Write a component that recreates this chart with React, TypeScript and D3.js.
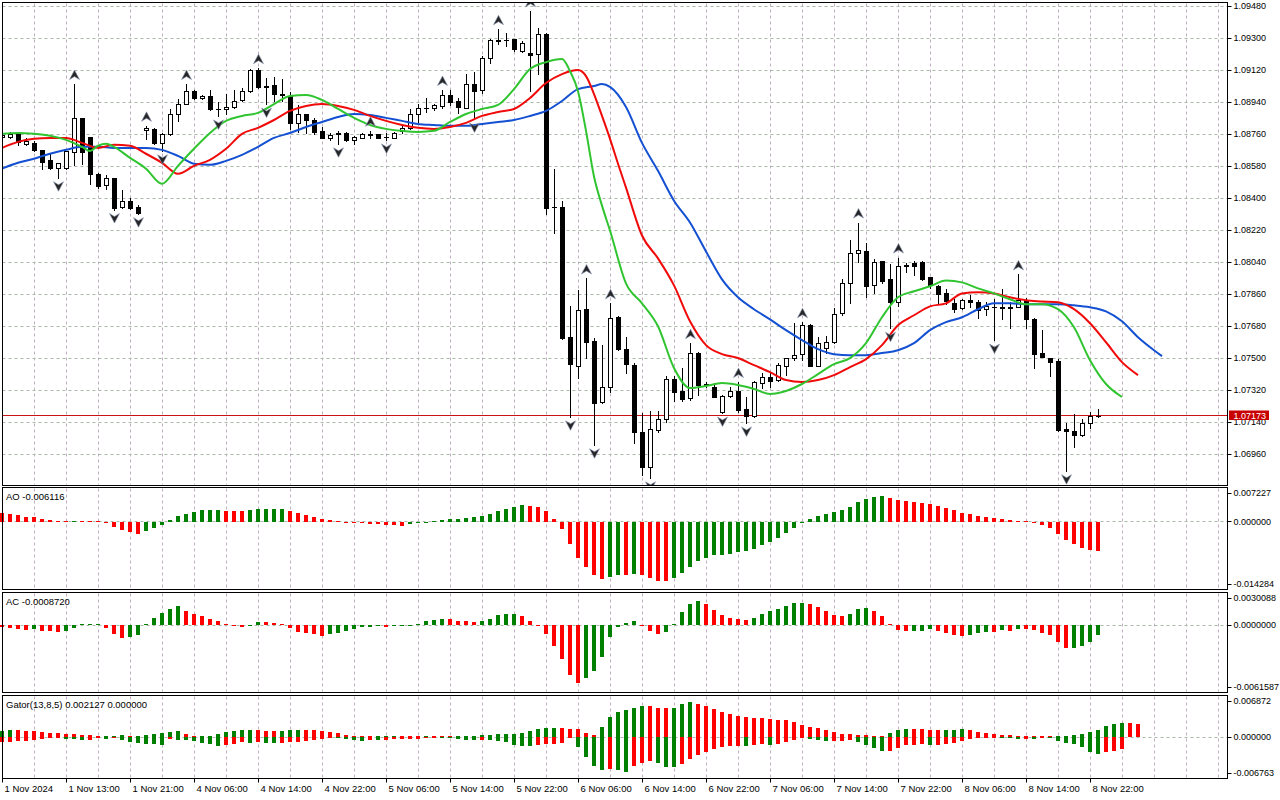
import React from "react";
import * as d3 from "d3";

// EURUSD H1 with Alligator, Fractals, AO, AC and Gator

const timeLabels = [
  "1 Nov 2024", "1 Nov 13:00", "1 Nov 21:00", "4 Nov 06:00", "4 Nov 14:00", "4 Nov 22:00",
  "5 Nov 06:00", "5 Nov 14:00", "5 Nov 22:00", "6 Nov 06:00", "6 Nov 14:00", "6 Nov 22:00",
  "7 Nov 06:00", "7 Nov 14:00", "7 Nov 22:00", "8 Nov 06:00", "8 Nov 14:00", "8 Nov 22:00",
];

const opens = [
  1.08745, 1.08745, 1.08762, 1.08706, 1.08712, 1.08672, 1.08616, 1.08571, 1.08571, 1.08661,
  1.08852, 1.08745, 1.08537, 1.08476, 1.08515, 1.08352, 1.08386, 1.08352, 1.08784, 1.08790,
  1.08712, 1.08762, 1.08874, 1.08930, 1.09003, 1.08964, 1.08975, 1.08902, 1.08902, 1.08913,
  1.08953, 1.09003, 1.09121, 1.09031, 1.09037, 1.08986, 1.08975, 1.08824, 1.08874, 1.08840,
  1.08779, 1.08740, 1.08762, 1.08768, 1.08728, 1.08740, 1.08757, 1.08762, 1.08745, 1.08740,
  1.08779, 1.08796, 1.08874, 1.08908, 1.08908, 1.08919, 1.08981, 1.08947, 1.08908, 1.09042,
  1.09009, 1.09188, 1.09289, 1.09289, 1.09295, 1.09228, 1.09216, 1.09211, 1.09323, 1.08352,
  1.08352, 1.07617, 1.07455, 1.07775, 1.07595, 1.07253, 1.07337, 1.07730, 1.07550, 1.07460,
  1.07084, 1.06888, 1.07096, 1.07157, 1.07382, 1.07315, 1.07275, 1.07528, 1.07354, 1.07337,
  1.07197, 1.07286, 1.07315, 1.07214, 1.07174, 1.07359, 1.07393, 1.07376, 1.07455, 1.07500,
  1.07522, 1.07685, 1.07455, 1.07556, 1.07589, 1.07752, 1.07920, 1.08089, 1.08100, 1.07909,
  1.08044, 1.07943, 1.07814, 1.08021, 1.08033, 1.08038, 1.07954, 1.07904, 1.07864, 1.07808,
  1.07780, 1.07825, 1.07814, 1.07775, 1.07786, 1.07786, 1.07786, 1.07786, 1.07825, 1.07718,
  1.07528, 1.07500, 1.07483, 1.07101, 1.07090, 1.07068, 1.07135, 1.07174,
];
const highs = [
  1.08762, 1.08774, 1.08768, 1.08740, 1.08723, 1.08672, 1.08655, 1.08599, 1.08667, 1.09042,
  1.08852, 1.08745, 1.08543, 1.08532, 1.08515, 1.08448, 1.08403, 1.08364, 1.08807, 1.08796,
  1.08768, 1.08902, 1.08958, 1.09042, 1.09009, 1.08981, 1.09009, 1.08941, 1.08986, 1.09009,
  1.09020, 1.09127, 1.09132, 1.09076, 1.09082, 1.09070, 1.08997, 1.08925, 1.08874, 1.08852,
  1.08801, 1.08768, 1.08779, 1.08773, 1.08751, 1.08768, 1.08779, 1.08762, 1.08768, 1.08773,
  1.08807, 1.08902, 1.08930, 1.08964, 1.08930, 1.09009, 1.09009, 1.08964, 1.09098, 1.09110,
  1.09199, 1.09295, 1.09351, 1.09328, 1.09295, 1.09284, 1.09452, 1.09357, 1.09328, 1.08565,
  1.08386, 1.07791, 1.07881, 1.07948, 1.07612, 1.07573, 1.07808, 1.07735, 1.07617, 1.07472,
  1.07191, 1.07202, 1.07202, 1.07399, 1.07399, 1.07444, 1.07584, 1.07533, 1.07365, 1.07359,
  1.07292, 1.07337, 1.07365, 1.07281, 1.07371, 1.07415, 1.07415, 1.07472, 1.07500, 1.07696,
  1.07702, 1.07690, 1.07617, 1.07623, 1.07780, 1.07943, 1.08162, 1.08263, 1.08145, 1.08055,
  1.08049, 1.08027, 1.08066, 1.08033, 1.08049, 1.08044, 1.07954, 1.07909, 1.07887, 1.07831,
  1.07831, 1.07853, 1.07825, 1.07814, 1.07831, 1.07887, 1.07814, 1.07971, 1.07836, 1.07724,
  1.07657, 1.07500, 1.07494, 1.07135, 1.07185, 1.07157, 1.07197, 1.07214,
];
const lows = [
  1.08740, 1.08740, 1.08700, 1.08700, 1.08667, 1.08565, 1.08565, 1.08515, 1.08565, 1.08588,
  1.08594, 1.08481, 1.08459, 1.08453, 1.08336, 1.08347, 1.08341, 1.08313, 1.08734, 1.08706,
  1.08667, 1.08757, 1.08835, 1.08930, 1.08958, 1.08958, 1.08897, 1.08863, 1.08874, 1.08908,
  1.08947, 1.08997, 1.09020, 1.08930, 1.08947, 1.08947, 1.08790, 1.08773, 1.08768, 1.08762,
  1.08740, 1.08728, 1.08706, 1.08723, 1.08706, 1.08740, 1.08740, 1.08740, 1.08728, 1.08740,
  1.08768, 1.08790, 1.08829, 1.08885, 1.08897, 1.08908, 1.08925, 1.08880, 1.08908, 1.08846,
  1.08992, 1.09160, 1.09267, 1.09256, 1.09228, 1.09222, 1.09003, 1.09098, 1.08313, 1.08206,
  1.07606, 1.07169, 1.07387, 1.07500, 1.07012, 1.07247, 1.07309, 1.07545, 1.07415, 1.07023,
  1.06843, 1.06826, 1.07085, 1.07141, 1.07258, 1.07258, 1.07264, 1.07292, 1.07337, 1.07281,
  1.07191, 1.07281, 1.07197, 1.07135, 1.07169, 1.07331, 1.07337, 1.07371, 1.07404, 1.07488,
  1.07488, 1.07455, 1.07455, 1.07528, 1.07584, 1.07741, 1.07808, 1.08038, 1.07842, 1.07864,
  1.07920, 1.07668, 1.07791, 1.07982, 1.07965, 1.07937, 1.07892, 1.07808, 1.07803, 1.07758,
  1.07775, 1.07786, 1.07724, 1.07741, 1.07601, 1.07718, 1.07668, 1.07786, 1.07668, 1.07443,
  1.07505, 1.07399, 1.07090, 1.06866, 1.07000, 1.07062, 1.07107, 1.07169,
];
const closes = [
  1.08757, 1.08762, 1.08717, 1.08723, 1.08672, 1.08605, 1.08571, 1.08599, 1.08667, 1.08852,
  1.08661, 1.08537, 1.08470, 1.08515, 1.08347, 1.08386, 1.08347, 1.08319, 1.08796, 1.08712,
  1.08762, 1.08874, 1.08930, 1.09003, 1.08964, 1.08975, 1.08902, 1.08900, 1.08913, 1.08947,
  1.09003, 1.09121, 1.09026, 1.09026, 1.08986, 1.08981, 1.08824, 1.08874, 1.08840, 1.08773,
  1.08740, 1.08757, 1.08768, 1.08728, 1.08745, 1.08762, 1.08759, 1.08740, 1.08747, 1.08768,
  1.08796, 1.08874, 1.08908, 1.08910, 1.08925, 1.08981, 1.08941, 1.08913, 1.09042, 1.09003,
  1.09188, 1.09289, 1.09286, 1.09292, 1.09239, 1.09272, 1.09205, 1.09323, 1.08347, 1.08350,
  1.07612, 1.07466, 1.07769, 1.07589, 1.07247, 1.07337, 1.07724, 1.07550, 1.07466, 1.07084,
  1.06888, 1.07101, 1.07157, 1.07382, 1.07309, 1.07270, 1.07528, 1.07348, 1.07348, 1.07281,
  1.07286, 1.07315, 1.07208, 1.07174, 1.07365, 1.07393, 1.07371, 1.07460, 1.07500, 1.07517,
  1.07685, 1.07455, 1.07584, 1.07589, 1.07747, 1.07920, 1.08089, 1.08106, 1.07904, 1.08038,
  1.07932, 1.07814, 1.08021, 1.08024, 1.08021, 1.07943, 1.07909, 1.07859, 1.07819, 1.07775,
  1.07825, 1.07814, 1.07769, 1.07791, 1.07788, 1.07780, 1.07780, 1.07825, 1.07718, 1.07522,
  1.07505, 1.07477, 1.07096, 1.07090, 1.07068, 1.07135, 1.07174, 1.07173,
];
const lastPrice = 1.07173;

const fractalUp = [9, 18, 23, 32, 46, 55, 62, 66, 73, 76, 86, 92, 100, 107, 112, 127];
const fractalDown = [7, 14, 17, 20, 27, 33, 42, 48, 59, 71, 74, 81, 90, 93, 111, 124, 133];

// Alligator lines, [bar, price], already shifted as drawn
const jaw: [number, number][] = [
  [0, 1.08566], [2, 1.08599], [4, 1.08622], [6, 1.0865], [8, 1.08672], [10, 1.08689], [12, 1.08689],
  [14, 1.08683], [16, 1.08683], [18, 1.08683], [20, 1.08672], [22, 1.08638], [24, 1.08594],
  [26, 1.08588], [28, 1.0861], [30, 1.08644], [32, 1.08689], [34, 1.08739], [36, 1.08767],
  [38, 1.08801], [40, 1.08829], [42, 1.08857], [44, 1.08874], [46, 1.08868], [48, 1.08852],
  [50, 1.08835], [52, 1.08818], [54, 1.08812], [56, 1.08807], [58, 1.08807], [60, 1.08818],
  [62, 1.08829], [64, 1.0884], [66, 1.08863], [68, 1.08891], [70, 1.08947], [72, 1.09014],
  [74, 1.09031], [75, 1.09042], [76, 1.09026], [78, 1.08913], [80, 1.08711], [82, 1.08554],
  [84, 1.08386], [86, 1.08263], [88, 1.081], [90, 1.07943], [92, 1.07842], [94, 1.07775],
  [96, 1.07718], [98, 1.07657], [100, 1.07601], [102, 1.0755], [104, 1.07522], [106, 1.07516],
  [108, 1.07516], [110, 1.07528], [112, 1.07544], [114, 1.07584], [116, 1.07657], [118, 1.07702],
  [120, 1.0773], [122, 1.07775], [124, 1.07808], [126, 1.07808], [128, 1.07803], [130, 1.07803],
  [132, 1.07803], [134, 1.07797], [136, 1.07786], [138, 1.07763], [140, 1.07707], [142, 1.07617],
  [144, 1.07544], [145, 1.07511],
];
const teeth: [number, number][] = [
  [0, 1.08683], [2, 1.08717], [4, 1.08734], [6, 1.08739], [8, 1.08739], [10, 1.08711], [12, 1.08683],
  [14, 1.087], [16, 1.08695], [18, 1.0865], [20, 1.08599], [22, 1.08537], [24, 1.08582],
  [26, 1.08616], [28, 1.08678], [30, 1.08762], [32, 1.08796], [34, 1.0884], [36, 1.08891],
  [38, 1.08919], [40, 1.0893], [42, 1.08919], [44, 1.08897], [46, 1.08863], [48, 1.08835],
  [50, 1.08812], [52, 1.08796], [54, 1.0879], [56, 1.08801], [58, 1.08824], [60, 1.08863],
  [62, 1.08885], [64, 1.08902], [66, 1.08964], [68, 1.09048], [70, 1.09098], [72, 1.09121],
  [73, 1.09087], [74, 1.08986], [75, 1.08863], [76, 1.08734], [77, 1.08594], [78, 1.08459],
  [80, 1.0819], [82, 1.08061], [84, 1.07909], [86, 1.07707], [88, 1.07573], [90, 1.07522],
  [92, 1.075], [94, 1.0746], [96, 1.07421], [98, 1.07376], [100, 1.07365], [102, 1.07376],
  [104, 1.07404], [106, 1.07449], [108, 1.07494], [110, 1.07573], [112, 1.07685], [114, 1.07741],
  [116, 1.07791], [118, 1.07808], [120, 1.07864], [122, 1.0787], [124, 1.07864], [126, 1.07842],
  [128, 1.07825], [130, 1.07819], [132, 1.07814], [134, 1.07775], [136, 1.07696], [138, 1.07589],
  [140, 1.07477], [142, 1.07404],
];
const lips: [number, number][] = [
  [0, 1.08762], [2, 1.08767], [4, 1.08762], [6, 1.08751], [8, 1.08728], [10, 1.08689], [11, 1.08666],
  [12, 1.08695], [13, 1.08706], [14, 1.08689], [16, 1.08627], [18, 1.08566], [20, 1.08481],
  [22, 1.08582], [24, 1.08678], [26, 1.08767], [28, 1.08835], [30, 1.08863], [32, 1.0888],
  [34, 1.0893], [36, 1.08975], [38, 1.08981], [40, 1.08953], [42, 1.08902], [44, 1.08852],
  [46, 1.08812], [48, 1.0879], [50, 1.08779], [52, 1.08773], [54, 1.08779], [56, 1.08829],
  [58, 1.08874], [60, 1.08902], [62, 1.08925], [64, 1.09014], [66, 1.09127], [68, 1.09166],
  [70, 1.09183], [71, 1.09115], [72, 1.09002], [73, 1.08779], [74, 1.08522], [75, 1.08358],
  [76, 1.08218], [78, 1.0792], [80, 1.07808], [82, 1.07679], [84, 1.07444], [86, 1.07331],
  [88, 1.07343], [90, 1.07359], [92, 1.07348], [94, 1.07326], [96, 1.07298], [98, 1.07315],
  [100, 1.07354], [102, 1.0741], [104, 1.07466], [106, 1.075], [108, 1.07584], [110, 1.0773],
  [112, 1.07842], [114, 1.07876], [116, 1.07904], [118, 1.07937], [120, 1.07926], [122, 1.07892],
  [124, 1.07864], [126, 1.07831], [128, 1.07803], [130, 1.07803], [132, 1.07775], [134, 1.07673],
  [136, 1.07488], [138, 1.07354], [140, 1.07281],
];

const ao = [
  0.00185, 0.0017, 0.00149, 0.00106, 0.00104, 0.00064, 0.00043, 0.00008, 0.00004, 0.00006,
  0.00003, 0.00002, 0.00001, -0.00028, -0.001, -0.0017, -0.00213, -0.00255, -0.00185, -0.00128,
  -0.00064, 0.00028, 0.00128, 0.00155, 0.00198, 0.0024, 0.00255, 0.00258, 0.00234, 0.00233,
  0.00232, 0.0024, 0.00261, 0.00276, 0.00277, 0.00278, 0.00234, 0.00185, 0.00149, 0.00106,
  0.00049, 0.00028, 0.00006, -0.00006, -0.00028, -0.00036, -0.00037, -0.00057, -0.00058, -0.00059,
  -0.00079, -0.00057, -0.00028, -0.00006, 0.00004, 0.00043, 0.00064, 0.00066, 0.00085, 0.00106,
  0.00128, 0.0017, 0.00234, 0.00276, 0.00319, 0.00361, 0.00334, 0.00319, 0.00234, 0.00064,
  -0.00142, -0.00461, -0.00759, -0.0095, -0.0112, -0.01205, -0.01169, -0.0112, -0.01122, -0.01099,
  -0.0112, -0.01184, -0.01247, -0.0125, -0.01184, -0.01077, -0.0095, -0.00822, -0.00759, -0.00708,
  -0.00701, -0.0068, -0.00631, -0.00616, -0.00574, -0.00489, -0.00419, -0.00334, -0.00227, -0.00121,
  -0.00006, 0.00064, 0.00128, 0.0017, 0.00213, 0.00255, 0.00319, 0.00425, 0.00489, 0.00531,
  0.00553, 0.0051, 0.00468, 0.00446, 0.00425, 0.00404, 0.00383, 0.0034, 0.00298, 0.00255,
  0.00191, 0.0017, 0.00128, 0.00106, 0.00085, 0.00064, 0.00028, 0.00021, 0.00004, -0.00002,
  -0.0007, -0.00128, -0.00249, -0.00376, -0.00461, -0.00546, -0.00589, -0.006116,
];
const ac = [
  -0.00018, -0.00024, -0.0003, -0.00039, -0.00036, -0.00051, -0.00052, -0.0006, -0.00051, -0.00024,
  0.00012, 0.00015, 0.00016, -0.00024, -0.00075, -0.00115, -0.00106, -0.00088, 0.00006, 0.00066,
  0.00111, 0.00147, 0.00174, 0.00129, 0.00106, 0.00084, 0.00057, 0.00039, 0.00002, -0.00003,
  -0.00012, -0.00002, 0.0003, 0.00028, 0.00021, 0.00012, -0.00024, -0.0006, -0.0007, -0.00084,
  -0.00097, -0.00084, -0.00066, -0.00051, -0.00033, -0.00018, -0.00012, -0.00003, -0.00018, -0.00003,
  -0.00002, -0.00001, 0.00012, 0.00039, 0.00048, 0.00057, 0.00056, 0.00039, 0.00038, 0.0003,
  0.00039, 0.00057, 0.00093, 0.00102, 0.00103, 0.00084, 0.00039, -0.00003, -0.00075, -0.00187,
  -0.0031, -0.00454, -0.00527, -0.00481, -0.00418, -0.00292, -0.00111, -0.00012, 0.00021, 0.00039,
  -0.00003, -0.00048, -0.00075, -0.00057, 0.00015, 0.0012, 0.00192, 0.00219, 0.00192, 0.00138,
  0.00093, 0.00066, 0.00057, 0.00048, 0.00066, 0.00102, 0.00129, 0.00147, 0.00174, 0.00201,
  0.00203, 0.00192, 0.00165, 0.00129, 0.00093, 0.00084, 0.00102, 0.00147, 0.00156, 0.00129,
  0.00084, 0.00012, -0.00042, -0.00051, -0.0005, -0.00049, -0.00033, -0.00051, -0.0007, -0.00088,
  -0.00097, -0.00088, -0.0007, -0.0006, -0.00061, -0.00042, -0.00051, -0.00033, -0.00034, -0.00042,
  -0.0007, -0.00088, -0.00151, -0.00205, -0.00204, -0.00187, -0.00151, -0.000872,
];
const gatorUp = [
  0.0011, 0.00126, 0.00124, 0.0011, 0.00108, 0.00093, 0.00077, 0.00075, 0.00061, 0.00049,
  0.00044, 0.00033, 0.00008, 0.00011, 0.00021, 0.00038, 0.00021, 0.00025, 0.00044, 0.00061,
  0.0007, 0.00087, 0.00103, 0.00061, 0.00005, 0.00008, 0.00028, 0.00049, 0.00093, 0.00103,
  0.00126, 0.00128, 0.00115, 0.0011, 0.00103, 0.00108, 0.00124, 0.00126, 0.00124, 0.00123,
  0.00103, 0.00087, 0.00077, 0.00044, 0.00028, 0.00016, 0.00008, 0.00021, 0.00023, 0.00025,
  0.00023, 0.00021, 0.0002, 0.00021, 0.0002, 0.00013, 0.00005, 0.00007, 0.00021, 0.00023,
  0.00044, 0.00046, 0.00047, 0.00054, 0.00056, 0.0007, 0.00103, 0.00136, 0.00152, 0.00154,
  0.00152, 0.00136, 0.00134, 0.0007, 0.00038, 0.00169, 0.00332, 0.00414, 0.00447, 0.00479,
  0.00512, 0.0051, 0.00479, 0.00478, 0.00481, 0.00545, 0.00577, 0.00545, 0.00512, 0.00463,
  0.00414, 0.00381, 0.00348, 0.00332, 0.00316, 0.00314, 0.00299, 0.00283, 0.00281, 0.0025,
  0.00201, 0.00169, 0.00152, 0.00119, 0.00087, 0.00054, 0.00052, 0.00038, 0.00036, 0.00021,
  0.0002, 0.0007, 0.00119, 0.00136, 0.00134, 0.00133, 0.00119, 0.00118, 0.00119, 0.00121,
  0.00136, 0.00119, 0.00087, 0.0007, 0.00054, 0.00038, 0.00036, 0.00021, 0.0002, 0.00007,
  0.00003, 0.00002, 0.00008, 0.00013, 0.00033, 0.00054, 0.00087, 0.00119, 0.00185, 0.00218,
  0.00234, 0.00232, 0.002127,
];
const gatorDown = [
  -0.00082, -0.00082, -0.00065, -0.00054, -0.00044, -0.00028, -0.00005, -0.00003, -0.00021, -0.00033,
  -0.00044, -0.00038, -0.00005, -0.00021, -0.00005, -0.00044, -0.0007, -0.00098, -0.00103, -0.00105,
  -0.00119, -0.00033, -0.00038, -0.00044, -0.00054, -0.00087, -0.00115, -0.00136, -0.00119, -0.0011,
  -0.00082, -0.0009, -0.00083, -0.0009, -0.00095, -0.00088, -0.00083, -0.00074, -0.00062, -0.00043,
  -0.00023, -0.00013, -0.00016, -0.00029, -0.00044, -0.00054, -0.00041, -0.00044, -0.00043, -0.00033,
  -0.00031, -0.00029, -0.00021, -0.00016, -0.00005, -0.00008, -0.00016, -0.00033, -0.00044, -0.00049,
  -0.00044, -0.00046, -0.00061, -0.00077, -0.00126, -0.00147, -0.00149, -0.00126, -0.0011, -0.00108,
  -0.00093, -0.00005, -0.00159, -0.00322, -0.0047, -0.00535, -0.00519, -0.00535, -0.00568, -0.0047,
  -0.0042, -0.00388, -0.0042, -0.00486, -0.00488, -0.00437, -0.00355, -0.0029, -0.0024, -0.00191,
  -0.00159, -0.00142, -0.00141, -0.00142, -0.00126, -0.0011, -0.00126, -0.0011, -0.00077, -0.00044,
  -0.00008, -0.00028, -0.00044, -0.00061, -0.00059, -0.00057, -0.00044, -0.00077, -0.00126, -0.00175,
  -0.00224, -0.00222, -0.00175, -0.00126, -0.00124, -0.0011, -0.00126, -0.00124, -0.0011, -0.00093,
  -0.00061, -0.00028, -0.00011, -0.00007, -0.00003, -0.00011, -0.00013, -0.00021, -0.0002, -0.00021,
  -0.00005, -0.00008, -0.00061, -0.00093, -0.0011, -0.00159, -0.0024, -0.00273, -0.0024, -0.00224,
  -0.00191,
];

const priceTicks = [
  1.0948, 1.093, 1.0912, 1.0894, 1.0876, 1.0858, 1.084, 1.0822, 1.0804, 1.0786, 1.0768, 1.075,
  1.0732, 1.0714, 1.0696,
];
const aoTicks = [0.007227, 0, -0.014284];
const acTicks = [0.0030088, 0, -0.0061587];
const gatorTicks = [0.006872, 0, -0.006763];

const FONT = "'Liberation Sans', Arial, sans-serif";
const LEFT = 2.5;
const RIGHT = 1227.5;
const GREEN = "#008000";
const RED = "#ff0000";
const HGRID = "#a9b8a9";
const VGRID = "#c2aec2";

const main = { top: 2.5, bottom: 485.5 };
const aoPanel = { top: 487.5, bottom: 589.5 };
const acPanel = { top: 592.5, bottom: 692.5 };
const gatorPanel = { top: 695.5, bottom: 778.5 };

const x = d3.scaleLinear().domain([0, 152]).range([2, 1218]);
const y = d3.scaleLinear().domain([1.0696, 1.0948]).range([454, 6.3]);

const noMinus = (f: (n: number) => string) => (n: number) => f(n).replace("\u2212", "-");
const f5 = noMinus(d3.format(".5f"));
const f6 = noMinus(d3.format(".6f"));
const f7 = noMinus(d3.format(".7f"));

const crisp = (v: number) => Math.floor(v) + 0.5;
const gridBars = d3.range(4, 153, 4);

function VGrid({ top, bottom }: { top: number; bottom: number }) {
  return (
    <g>
      {gridBars.map((b) => (
        <line key={b} x1={x(b) + 0.5} x2={x(b) + 0.5} y1={top + 1} y2={bottom - 1}
          stroke={VGRID} strokeDasharray="3,3" />
      ))}
    </g>
  );
}

function Histogram({ values, scale, compareAbs }: {
  values: number[]; scale: d3.ScaleLinear<number, number>; compareAbs?: boolean;
}) {
  const y0 = Math.round(scale(0));
  const up = (i: number) => {
    const a = compareAbs ? Math.abs(values[i]) : values[i];
    const b = compareAbs ? Math.abs(values[i - 1]) : values[i - 1];
    return a > b;
  };
  return (
    <g>
      {values.map((v, i) => {
        const cx = Math.round(x(i));
        const yv = Math.round(scale(v));
        const green = i === 0 ? up(1) : up(i);
        const h = Math.max(1, Math.abs(yv - y0));
        return (
          <rect key={i} x={cx - 2} width={4} y={v >= 0 ? y0 - h : y0} height={h}
            fill={green ? GREEN : RED} />
        );
      })}
    </g>
  );
}

function SubPanel({ panel, ticks, fmt, label, children }: {
  panel: { top: number; bottom: number }; ticks: number[]; fmt: (n: number) => string;
  label: string; children: React.ReactNode;
}) {
  const scale = d3.scaleLinear().domain([ticks[2], ticks[0]]).range([panel.bottom, panel.top]);
  const zeroY = crisp(scale(0));
  const labelY = [panel.top + 5.5, scale(0), panel.bottom - 5.5];
  return (
    <g>
      <VGrid top={panel.top} bottom={panel.bottom} />
      <line x1={LEFT} x2={RIGHT} y1={zeroY} y2={zeroY} stroke={HGRID} strokeDasharray="3,3" />
      {children}
      <rect x={LEFT} y={panel.top} width={RIGHT - LEFT} height={panel.bottom - panel.top}
        fill="none" stroke="#000" />
      <text x={6} y={panel.top + 9} fontSize={9.5} dominantBaseline="central" fill="#000">{label}</text>
      {ticks.map((t, i) => (
        <g key={i}>
          <line x1={RIGHT} x2={RIGHT + 4} y1={crisp(labelY[i])} y2={crisp(labelY[i])} stroke="#000" />
          <text x={1233.5} y={labelY[i]} fontSize={9} dominantBaseline="central" fill="#000">
            {fmt(t)}
          </text>
        </g>
      ))}
    </g>
  );
}

function Arrow({ cx, cy, dir }: { cx: number; cy: number; dir: 1 | -1 }) {
  // dir 1 = pointing up
  const s = dir;
  const d = `M${cx},${cy - 5 * s} L${cx + 5},${cy + 4.5 * s} L${cx},${cy + 1.5 * s} L${cx - 5},${cy + 4.5 * s} Z`;
  return <path d={d} fill="#262626" stroke="#8894b0" strokeWidth={0.6} strokeLinejoin="round" />;
}

export default function App() {
  const last = ao.length - 1;
  const lineGen = d3
    .line<[number, number]>()
    .x((d) => x(d[0]))
    .y((d) => y(d[1]))
    .curve(d3.curveMonotoneX);

  const aoScale = d3.scaleLinear().domain([aoTicks[2], aoTicks[0]]).range([aoPanel.bottom, aoPanel.top]);
  const acScale = d3.scaleLinear().domain([acTicks[2], acTicks[0]]).range([acPanel.bottom, acPanel.top]);
  const gScale = d3.scaleLinear().domain([gatorTicks[2], gatorTicks[0]]).range([gatorPanel.bottom, gatorPanel.top]);
  const priceY = crisp(y(lastPrice)) - 1;
  const gLast = gatorUp.length - 1;

  return (
    <>
      <style>{"body{margin:0;background:#fff}"}</style>
      <svg width={1280} height={800} style={{ display: "block", fontFamily: FONT }}>
        <rect width={1280} height={800} fill="#fff" />
        <defs>
          <clipPath id="mainClip">
            <rect x={3} y={3} width={RIGHT - 3.5} height={main.bottom - 3.5} />
          </clipPath>
        </defs>

        {/* main panel grid */}
        <VGrid top={main.top} bottom={main.bottom} />
        {priceTicks.map((p) => (
          <line key={p} x1={LEFT} x2={RIGHT} y1={crisp(y(p))} y2={crisp(y(p))}
            stroke={HGRID} strokeDasharray="3,3" />
        ))}

        <g clipPath="url(#mainClip)">
          {/* current price line */}
          <line x1={LEFT} x2={RIGHT} y1={priceY} y2={priceY} stroke="#c81414" />

          {/* candles */}
          {opens.map((o, i) => {
            const cx = Math.round(x(i));
            const c = closes[i];
            const top = Math.round(y(Math.max(o, c)));
            const bot = Math.round(y(Math.min(o, c)));
            const bull = c >= o;
            return (
              <g key={i}>
                <line x1={cx + 0.5} x2={cx + 0.5} y1={Math.round(y(highs[i]))}
                  y2={Math.round(y(lows[i])) + 1} stroke="#000" />
                {bot - top < 1 ? (
                  <line x1={cx - 2} x2={cx + 3} y1={top + 0.5} y2={top + 0.5} stroke="#000" />
                ) : (
                  <rect x={cx - 1.5} y={top + 0.5} width={4} height={bot - top}
                    fill={bull ? "#fff" : "#000"} stroke="#000" />
                )}
              </g>
            );
          })}

          {/* alligator */}
          <path d={lineGen(jaw) ?? ""} fill="none" stroke="#1450d2" strokeWidth={2} />
          <path d={lineGen(teeth) ?? ""} fill="none" stroke="#f00a0a" strokeWidth={2} />
          <path d={lineGen(lips) ?? ""} fill="none" stroke="#30c530" strokeWidth={2} />

          {/* fractals */}
          {fractalUp.map((b) => (
            <Arrow key={"u" + b} cx={x(b) + 0.5} cy={y(highs[b]) - 9} dir={1} />
          ))}
          {fractalDown.map((b) => (
            <Arrow key={"d" + b} cx={x(b) + 0.5} cy={y(lows[b]) + 8.5} dir={-1} />
          ))}
        </g>

        <rect x={LEFT} y={main.top} width={RIGHT - LEFT} height={main.bottom - main.top}
          fill="none" stroke="#000" />

        {/* price axis */}
        {priceTicks.map((p) => (
          <g key={p}>
            <line x1={RIGHT} x2={RIGHT + 4} y1={crisp(y(p))} y2={crisp(y(p))} stroke="#000" />
            <text x={1233.5} y={y(p)} fontSize={9} dominantBaseline="central" fill="#000">{f5(p)}</text>
          </g>
        ))}
        <rect x={1229} y={priceY - 5} width={40} height={9.5} fill="#c80000" />
        <text x={1233.5} y={priceY} fontSize={9} dominantBaseline="central" fill="#fff">{f5(lastPrice)}</text>

        {/* AO */}
        <SubPanel panel={aoPanel} ticks={aoTicks} fmt={f6} label={`AO ${f6(ao[last])}`}>
          <Histogram values={ao} scale={aoScale} />
        </SubPanel>

        {/* AC */}
        <SubPanel panel={acPanel} ticks={acTicks} fmt={f7} label={`AC ${f7(ac[last])}`}>
          <Histogram values={ac} scale={acScale} />
        </SubPanel>

        {/* Gator */}
        <SubPanel panel={gatorPanel} ticks={gatorTicks} fmt={f6}
          label={`Gator(13,8,5) ${f6(gatorUp[gLast])} ${f6(Math.abs(gatorDown[gLast] ?? 0))}`}>
          <Histogram values={gatorUp} scale={gScale} compareAbs />
          <Histogram values={gatorDown} scale={gScale} compareAbs />
        </SubPanel>

        {/* time axis */}
        <line x1={LEFT} x2={RIGHT} y1={gatorPanel.bottom} y2={gatorPanel.bottom} stroke="#000" />
        {timeLabels.map((t, i) => {
          const bx = Math.round(x(i * 8)) + 0.5;
          return (
            <g key={t}>
              <line x1={bx} x2={bx} y1={gatorPanel.bottom} y2={gatorPanel.bottom + 4} stroke="#000" />
              <text x={bx + 2} y={792} fontSize={9.5} fill="#000">{t}</text>
            </g>
          );
        })}
      </svg>
    </>
  );
}
